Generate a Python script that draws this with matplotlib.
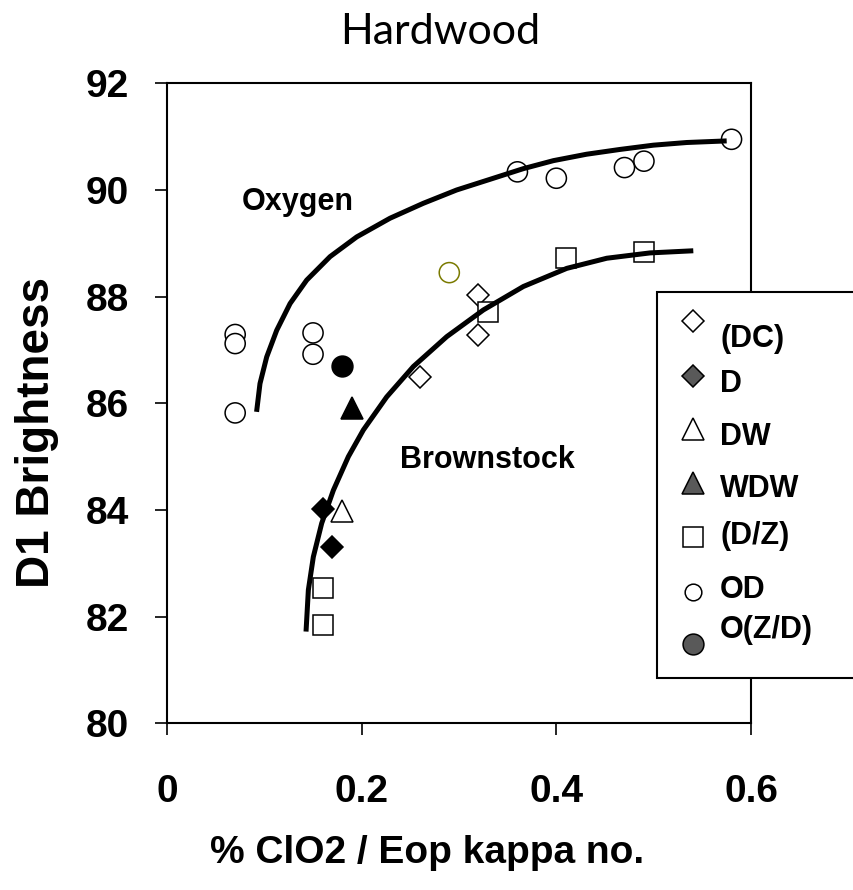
import numpy as np
import matplotlib
matplotlib.use("Agg")
import matplotlib.pyplot as plt
from matplotlib.lines import Line2D
from matplotlib.patches import Rectangle

plt.rcParams['font.family'] = ['Liberation Sans', 'DejaVu Sans']
plt.rcParams['font.weight'] = 'bold'
plt.rcParams['axes.labelweight'] = 'bold'

# data
dc_x = [0.32, 0.32, 0.26]
dc_y = [88.03, 87.29, 86.49]
d_x = [0.16, 0.17]
d_y = [84.01, 83.31]
dw_x = [0.18]
dw_y = [83.98]
wdw_x = [0.19]
wdw_y = [85.92]
dz_x = [0.33, 0.41, 0.49, 0.16, 0.16]
dz_y = [87.72, 88.73, 88.84, 82.53, 81.84]
od_x = [0.07, 0.07, 0.07, 0.15, 0.15, 0.29, 0.36, 0.40, 0.47, 0.49, 0.58]
od_y = [87.29, 87.12, 85.82, 87.32, 86.92, 88.45, 90.34, 90.22, 90.42, 90.54, 90.95]
od_edge = ['black'] * 5 + ['#7a7a00'] + ['black'] * 5
ozd_x = [0.18]
ozd_y = [86.70]

# trend lines
oxy_x = [0.092, 0.0955, 0.1024, 0.1127, 0.1264, 0.1435, 0.1675, 0.1949, 0.2291,
         0.2633, 0.2976, 0.3319, 0.3661, 0.397, 0.431, 0.4654, 0.4997, 0.534, 0.575]
oxy_y = [85.84, 86.37, 86.87, 87.37, 87.87, 88.31, 88.75, 89.12, 89.47,
         89.75, 90.00, 90.20, 90.40, 90.55, 90.67, 90.76, 90.84, 90.89, 90.92]
bs_x = [0.1428, 0.1452, 0.1503, 0.1589, 0.1709, 0.1863, 0.2017, 0.2257,
        0.2531, 0.2874, 0.325, 0.3661, 0.4107, 0.4518, 0.4963, 0.5407]
bs_y = [81.72, 82.50, 83.12, 83.75, 84.37, 85.00, 85.50, 86.12,
        86.69, 87.25, 87.75, 88.19, 88.53, 88.72, 88.82, 88.86]

labels = ['(DC)', 'D', 'DW', 'WDW', '(D/Z)', 'OD', 'O(Z/D)']

fig = plt.figure(figsize=(8.54, 8.9), dpi=100)
ax = fig.add_axes([0.1956, 0.1873, 0.8794 - 0.1956, 0.9064 - 0.1873])

ew = 1.1
ax.plot(dc_x, dc_y, 'D', ms=11, mfc='white', mec='black', mew=ew, ls='none')
ax.plot(d_x, d_y, 'D', ms=11, mfc='black', mec='black', mew=ew, ls='none')
ax.plot(dw_x, dw_y, '^', ms=15.5, mfc='white', mec='black', mew=ew, ls='none')
ax.plot(wdw_x, wdw_y, '^', ms=15.5, mfc='black', mec='black', mew=ew, ls='none')
ax.plot(dz_x, dz_y, 's', ms=14, mfc='white', mec='black', mew=ew, ls='none')
ax.scatter(od_x, od_y, s=14.5 ** 2, facecolors='white', edgecolors=od_edge,
           linewidths=ew, zorder=2)
ax.plot(ozd_x, ozd_y, 'o', ms=15, mfc='black', mec='black', mew=ew, ls='none')

for cx, cy in [(oxy_x, oxy_y), (bs_x, bs_y)]:
    ax.plot(cx, cy, color='black', lw=3.6, zorder=3,
            solid_capstyle='butt', solid_joinstyle='round')

ax.text(0.077, 89.77, 'Oxygen', fontsize=22, va='center', ha='left')
ax.text(0.239, 84.94, 'Brownstock', fontsize=22, va='center', ha='left')

ax.set_xlim(0, 0.6)
ax.set_ylim(80, 92)
ax.set_xticks([0, 0.2, 0.4, 0.6])
ax.set_xticklabels(['0', '0.2', '0.4', '0.6'])
ax.set_yticks([80, 82, 84, 86, 88, 90, 92])
ax.tick_params(axis='both', direction='out', length=8.5, width=1.2, labelsize=28)
ax.tick_params(axis='x', pad=28)
ax.tick_params(axis='y', pad=19)
for s in ax.spines.values():
    s.set_linewidth(1.5)

ax.set_xlabel('% ClO2 / Eop kappa no.', fontsize=28)
ax.xaxis.label.set_verticalalignment('center')
ax.xaxis.set_label_coords(0.445, -0.202)
ax.set_ylabel('D1 Brightness', fontsize=33)
ax.yaxis.label.set_verticalalignment('center')
ax.yaxis.set_label_coords(-0.222, 0.4536)
fig.text(0.515, 0.9635, 'Hardwood', family=['Lato', 'DejaVu Sans'],
         fontweight='normal', fontsize=31, ha='center', va='center')

# legend box drawn by hand (it runs off the right edge)
W, H = 854, 890
fig.add_artist(Rectangle((656.7 / W, 1 - 678 / H), 300 / W, (678 - 291.7) / H,
                         transform=fig.transFigure, facecolor='white',
                         edgecolor='black', lw=1.5, zorder=5))
leg_mk = [('D', 11, 'white'), ('D', 11, '#595959'), ('^', 15.5, 'white'),
          ('^', 15.5, '#595959'), ('s', 14, 'white'), ('o', 12, 'white'),
          ('o', 15, '#595959')]
mk_y = [321, 376, 429, 483, 537, 592, 644]
tx_y = [339, 384, 437, 489, 536, 590, 630]
for (m, ms, fc), my, ty, lab in zip(leg_mk, mk_y, tx_y, labels):
    fig.add_artist(Line2D([693 / W], [1 - my / H], marker=m, ms=ms, mfc=fc,
                          mec='black', mew=ew, ls='none',
                          transform=fig.transFigure, zorder=6))
    fig.text(720 / W, 1 - ty / H, lab, fontsize=22, va='center', ha='left',
             zorder=6)

fig.savefig('out.png', dpi=100)
